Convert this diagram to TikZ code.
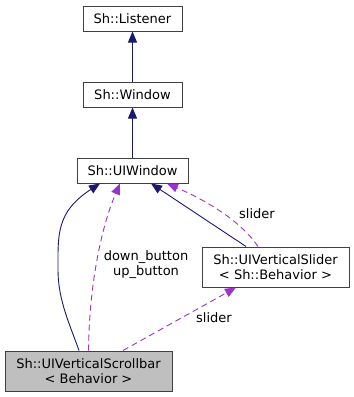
\documentclass[tikz,border=0pt]{standalone}
\usepackage{fontspec}
\setmainfont{DejaVu Sans}
\usetikzlibrary{arrows.meta}
\definecolor{inh}{HTML}{191970}
\definecolor{usage}{HTML}{9A32CD}
\definecolor{frame}{HTML}{404040}

\begin{document}
\begin{tikzpicture}[x=1pt,y=-1pt,
  cls/.style={draw=frame,line width=1pt,fill=white,minimum height=25pt,inner sep=0pt,align=center,font=\fontsize{13}{15}\selectfont},
  lbl/.style={align=center,font=\fontsize{13}{15}\selectfont},
  isa/.style={draw=inh,line width=0.9pt,-{Triangle[length=11pt,width=9pt]}},
  uses/.style={draw=usage,line width=0.9pt,dash pattern=on 6pt off 4pt,-{Triangle[length=11pt,width=9pt]}}]
\useasboundingbox (0,0) rectangle (354,397);
\node[cls,minimum width=99pt] (lst) at (132.5,18.5) {Sh::Listener};
\node[cls,minimum width=99pt] (win) at (132.5,94.5) {Sh::Window};
\node[cls,minimum width=111pt] (uiw) at (132.5,170.5) {Sh::UIWindow};
\node[cls,minimum width=147pt,minimum height=40pt] (vsl) at (275.5,267) {Sh::UIVerticalSlider\\< Sh::Behavior >};
\node[cls,minimum width=167pt,minimum height=40pt,fill=black!25] (vsb) at (88.5,371) {Sh::UIVerticalScrollbar\\< Behavior >};
% inheritance
\draw[isa] (win) -- (lst);
\draw[isa] (uiw) -- (win);
\draw[isa] ([xshift=-9.5pt]vsb.north) .. controls (70,325) and (58,300) .. (58,270)
  .. controls (58,235) and (56,212) .. ([xshift=-32.5pt]uiw.south);
\draw[isa] ([xshift=-29.5pt]vsl.north) -- ([xshift=18.5pt]uiw.south);
% members
\draw[uses] (vsb.north) .. controls (89,290) and (100,230) .. ([xshift=-12.5pt]uiw.south);
\node[lbl] (btn) at (146,265) {down\_button\\up\_button};
\draw[uses] ([xshift=-17.5pt]vsl.north) .. controls (240,220) and (205,200) .. ([xshift=34.5pt]uiw.south);
\node[lbl] (sl1) at (257,214) {slider};
\draw[uses] ([xshift=34.5pt]vsb.north) -- ([xshift=-39.5pt]vsl.south);
\node[lbl] (sl2) at (214,318) {slider};
\end{tikzpicture}
\end{document}
